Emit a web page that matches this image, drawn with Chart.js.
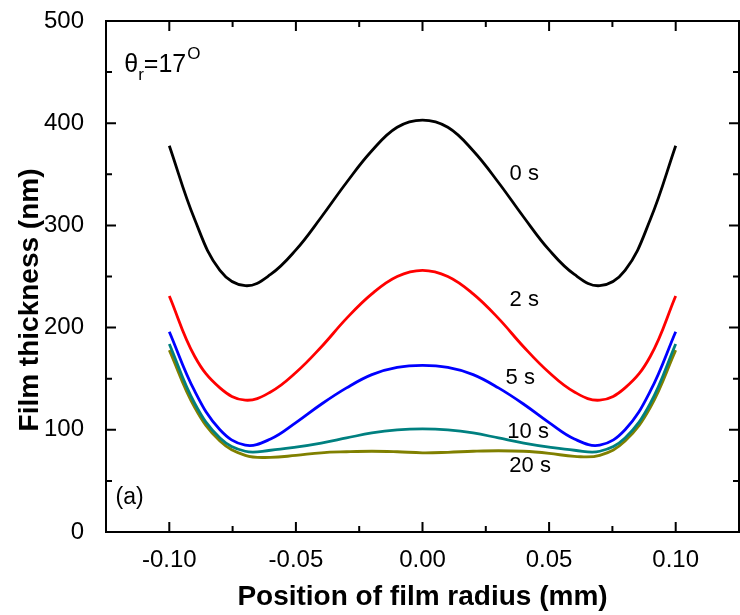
<!DOCTYPE html>
<html>
<head>
<meta charset="utf-8">
<script src="https://cdn.jsdelivr.net/npm/chart.js@4.4.0/dist/chart.umd.min.js"></script>
<style>
  html, body { margin: 0; padding: 0; background: #fff; }
  #wrap { width: 740px; height: 615px; }
</style>
</head>
<body>
<div id="wrap"><canvas id="filmChart" width="740" height="615"></canvas></div>
<script>
// positions along the film radius (mm)
const radius = [-0.10, -0.09, -0.08, -0.07, -0.06, -0.05, -0.04, -0.03, -0.02, -0.01, 0.00,
                0.01, 0.02, 0.03, 0.04, 0.05, 0.06, 0.07, 0.08, 0.09, 0.10];

// film thickness (nm)
const thick0s  = [378, 306, 256, 241, 252, 276, 308, 342, 373, 396, 403, 396, 373, 342, 308, 276, 252, 241, 256, 306, 378];
const thick2s  = [231, 172, 141, 129, 137, 156, 181, 209, 233, 250, 256, 250, 233, 209, 181, 156, 137, 129, 141, 172, 231];
const thick5s  = [196, 138, 100, 85, 91, 107, 125, 141, 154, 161, 163, 161, 154, 141, 125, 107, 91, 85, 100, 138, 196];
const thick10s = [184, 126, 92, 79, 80, 83, 87, 92, 97, 100, 101, 100, 97, 92, 87, 83, 80, 79, 92, 126, 184];
const thick20s = [178, 122, 89, 75, 73, 75, 77.5, 78.5, 79, 78.5, 77.5, 78, 79, 79.5, 79, 77, 74, 75, 89, 122, 178];

const xTicks = [-0.10, -0.05, 0.00, 0.05, 0.10];
const xMinor = [-0.075, -0.025, 0.025, 0.075];
const yTicks = [0, 100, 200, 300, 400, 500];
const yMinor = [50, 150, 250, 350, 450];

// curve labels, in data coordinates
const curveLabels = [
  { text: '0 s',  x: 0.0402, y: 350 },
  { text: '2 s',  x: 0.0402, y: 227 },
  { text: '5 s',  x: 0.0386, y: 151 },
  { text: '10 s', x: 0.0417, y: 98 },
  { text: '20 s', x: 0.0425, y: 64.5 }
];

const FONT = "'Liberation Sans', Arial, Helvetica, sans-serif";

function toPoints(vals) {
  return vals.map((v, i) => ({ x: radius[i], y: v }));
}

function series(label, vals, color) {
  return {
    label: label,
    data: toPoints(vals),
    borderColor: color,
    backgroundColor: color,
    borderWidth: 2.8,
    pointRadius: 0,
    fill: false,
    tension: 0.4
  };
}

// box round the plot with inward ticks on all four sides, plus the text inside
const framePlugin = {
  id: 'frame',
  afterDatasetsDraw(chart) {
    const { ctx, chartArea: a, scales } = chart;
    const xs = scales.x, ys = scales.y;
    ctx.save();
    ctx.strokeStyle = '#000';
    ctx.lineWidth = 2;
    ctx.strokeRect(a.left, a.top, a.right - a.left, a.bottom - a.top);
    ctx.beginPath();
    const tick = (vals, len) => {
      vals.forEach(v => {
        const px = xs.getPixelForValue(v);
        ctx.moveTo(px, a.bottom); ctx.lineTo(px, a.bottom - len);
        ctx.moveTo(px, a.top); ctx.lineTo(px, a.top + len);
      });
    };
    const ytick = (vals, len) => {
      vals.forEach(v => {
        const py = ys.getPixelForValue(v);
        ctx.moveTo(a.left, py); ctx.lineTo(a.left + len, py);
        ctx.moveTo(a.right, py); ctx.lineTo(a.right - len, py);
      });
    };
    tick(xTicks, 10);
    tick(xMinor, 6);
    ytick(yTicks, 10);
    ytick(yMinor, 6);
    ctx.stroke();

    // curve labels
    ctx.fillStyle = '#000';
    ctx.font = '22px ' + FONT;
    ctx.textAlign = 'center';
    ctx.textBaseline = 'middle';
    curveLabels.forEach(l => {
      ctx.fillText(l.text, xs.getPixelForValue(l.x), ys.getPixelForValue(l.y));
    });

    // (a)
    ctx.textAlign = 'left';
    ctx.font = '23px ' + FONT;
    ctx.fillText('(a)', xs.getPixelForValue(-0.1212), ys.getPixelForValue(34));

    // theta_r = 17^O
    ctx.textBaseline = 'alphabetic';
    let x = xs.getPixelForValue(-0.1178);
    const base = ys.getPixelForValue(450);
    ctx.font = '25px ' + FONT;
    ctx.fillText('\u03b8', x, base);
    x += ctx.measureText('\u03b8').width;
    ctx.font = '17px ' + FONT;
    ctx.fillText('r', x, base + 8);
    x += ctx.measureText('r').width;
    ctx.font = '25px ' + FONT;
    ctx.fillText('=17', x, base);
    x += ctx.measureText('=17').width + 1;
    ctx.font = '17px ' + FONT;
    ctx.fillText('O', x, base - 13);

    // y axis title
    ctx.translate(30, 300);
    ctx.rotate(-Math.PI / 2);
    ctx.textAlign = 'center';
    ctx.textBaseline = 'middle';
    ctx.font = 'bold 28px ' + FONT;
    ctx.fillText('Film thickness (nm)', 0, 0);
    ctx.restore();
  }
};

const ctx = document.getElementById('filmChart').getContext('2d');
const chart = new Chart(ctx, {
  type: 'line',
  data: {
    datasets: [
      series('0 s', thick0s, '#000000'),
      series('2 s', thick2s, '#ff0000'),
      series('5 s', thick5s, '#0000ff'),
      series('10 s', thick10s, '#008080'),
      series('20 s', thick20s, '#808000')
    ]
  },
  options: {
    responsive: false,
    animation: false,
    layout: { padding: { top: 21, right: 1, left: 0, bottom: 0 } },
    plugins: { legend: { display: false }, tooltip: { enabled: false } },
    scales: {
      x: {
        type: 'linear',
        min: -0.125,
        max: 0.125,
        grid: { display: false },
        border: { display: false },
        afterBuildTicks: s => { s.ticks = xTicks.map(v => ({ value: v })); },
        afterFit: s => { s.height = 83; s.paddingLeft = 0; s.paddingRight = 0; },
        ticks: {
          padding: 6,
          color: '#000',
          font: { family: FONT, size: 24 },
          callback: v => Number(v).toFixed(2),
          maxRotation: 0
        },
        title: {
          display: true,
          text: 'Position of film radius (mm)',
          color: '#000',
          font: { family: FONT, size: 28, weight: 'bold' },
          padding: { top: 0, bottom: 1 }
        }
      },
      y: {
        type: 'linear',
        min: 0,
        max: 500,
        grid: { display: false },
        border: { display: false },
        afterBuildTicks: s => { s.ticks = yTicks.map(v => ({ value: v })); },
        afterFit: s => { s.width = 106; s.paddingTop = 0; s.paddingBottom = 0; },
        ticks: {
          padding: 14,
          color: '#000',
          font: { family: FONT, size: 24 }
        }
      }
    }
  },
  plugins: [framePlugin]
});
</script>
</body>
</html>
